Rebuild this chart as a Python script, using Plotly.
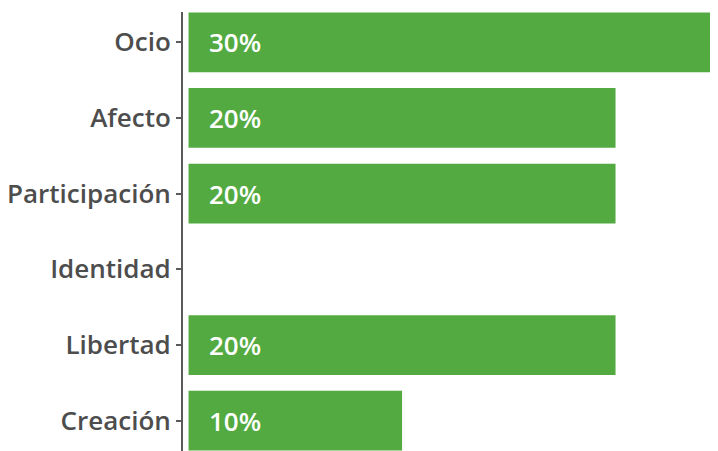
import plotly.graph_objects as go

categories = ["Ocio", "Afecto", "Participación", "Identidad", "Libertad", "Creación"]
values = [30, 20, 20, 0, 20, 10]
labels = ["30%", "20%", "20%", "", "20%", "10%"]

BAR_COLOR = "#53AA41"
TEXT_COLOR = "#4D4D4D"
FONT = "Open Sans"

fig = go.Figure()
fig.add_trace(go.Bar(
    x=values, y=categories, orientation="h",
    marker=dict(color=BAR_COLOR, line=dict(width=0)),
    width=0.79, hoverinfo="skip",
))

for cat, v, lab in zip(categories, values, labels):
    if v > 0 and lab:
        fig.add_annotation(
            x=0, y=cat, text=lab, showarrow=False,
            xanchor="left", xshift=18, yanchor="middle",
            font=dict(family=FONT, size=26, color="white", weight=600),
        )

fig.update_layout(
    width=710, height=443,
    margin=dict(l=175, r=0, t=4, b=0),
    paper_bgcolor="white", plot_bgcolor="white",
    showlegend=False,
    font=dict(family=FONT, color=TEXT_COLOR),
    xaxis=dict(range=[-0.26, 24.8], visible=False, fixedrange=True),
    yaxis=dict(
        range=[5.4, -0.4], categoryorder="array", categoryarray=categories,
        showline=True, linecolor="#5A5A5A", linewidth=2,
        ticks="outside", ticklen=5, tickwidth=1.5, tickcolor="#5A5A5A",
        tickfont=dict(family=FONT, size=26, color=TEXT_COLOR, weight=600),
        showgrid=False, zeroline=False, ticklabelstandoff=0,
    ),
)

fig.write_html("out.html")
